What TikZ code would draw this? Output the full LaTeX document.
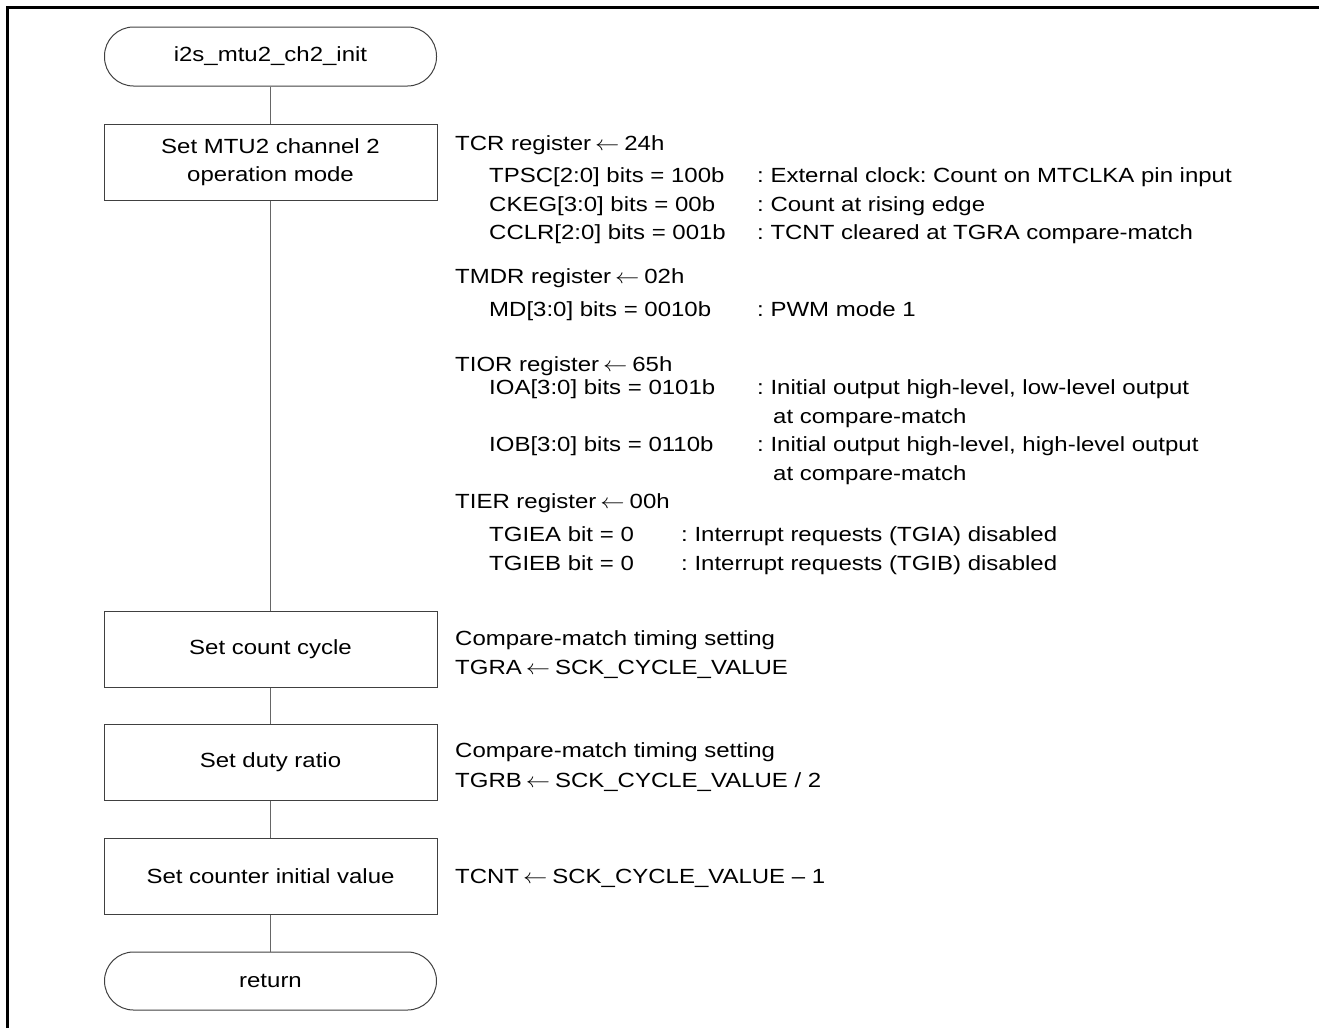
\documentclass[tikz,border=0pt]{standalone}
\usepackage{fontspec}
\usepackage{graphicx}
\setmainfont[FakeStretch=1.17]{Liberation Sans}
\newcommand{\la}{\hspace{4pt}\scalebox{1.17}[1]{$\leftarrow$}\hspace{5pt}}
\begin{document}
\frenchspacing
\begin{tikzpicture}[x=1pt,y=-1pt,
  every node/.style={font=\fontsize{20.5}{28}\selectfont},
  term/.style={draw=black!75, line width=1pt, rounded corners=29pt, minimum width=332pt, minimum height=59pt, inner sep=0pt},
  proc/.style={draw=black!75, line width=1pt, minimum width=333pt, minimum height=76pt, inner sep=0pt, align=center},
  link/.style={draw=black!60, line width=1.2pt},
  txt/.style={anchor=base west, inner sep=0pt},
  frame/.style={line width=3pt}]
\useasboundingbox (0,0) rectangle (1319,1028);
\draw[frame] (7.5,1028) -- (7.5,7.5) -- (1319,7.5);

\node[term] (start) at (270.5,56.5) {i2s\_mtu2\_ch2\_init};
\node[proc] (b1) at (270.5,162) {Set MTU2 channel 2\\operation mode};
\node[proc] (b2) at (270.5,649) {Set count cycle};
\node[proc] (b3) at (270.5,762) {Set duty ratio};
\node[proc] (b4) at (270.5,876) {Set counter initial value};
\node[term, minimum height=58pt] (ret) at (270.5,981) {return};

\draw[link] (start) -- (b1);
\draw[link] (b1) -- (b2);
\draw[link] (b2) -- (b3);
\draw[link] (b3) -- (b4);
\draw[link] (b4) -- (ret);

\node[txt] (t1) at (455,150) {TCR register\la 24h};
\node[txt] (t2) at (489,182) {TPSC[2:0] bits = 100b};
\node[txt] (t2c) at (757,182) {: External clock: Count on MTCLKA pin input};
\node[txt] (t3) at (489,211) {CKEG[3:0] bits = 00b};
\node[txt] (t3c) at (757,211) {: Count at rising edge};
\node[txt] (t4) at (489,239) {CCLR[2:0] bits = 001b};
\node[txt] (t4c) at (757,239) {: TCNT cleared at TGRA compare-match};
\node[txt] (t5) at (455,283) {TMDR register\la 02h};
\node[txt] (t6) at (489,316) {MD[3:0] bits = 0010b};
\node[txt] (t6c) at (757,316) {: PWM mode 1};
\node[txt] (t7) at (455,371) {TIOR register\la 65h};
\node[txt] (t8) at (489,394) {IOA[3:0] bits = 0101b};
\node[txt] (t8c) at (757,394) {: Initial output high-level, low-level output};
\node[txt] (t8d) at (773,423) {at compare-match};
\node[txt] (t9) at (489,451) {IOB[3:0] bits = 0110b};
\node[txt] (t9c) at (757,451) {: Initial output high-level, high-level output};
\node[txt] (t9d) at (773,480) {at compare-match};
\node[txt] (t10) at (455,508) {TIER register\la 00h};
\node[txt] (t11) at (489,541) {TGIEA bit = 0};
\node[txt] (t11c) at (681,541) {: Interrupt requests (TGIA) disabled};
\node[txt] (t12) at (489,570) {TGIEB bit = 0};
\node[txt] (t12c) at (681,570) {: Interrupt requests (TGIB) disabled};

\node[txt] (u1) at (455,645) {Compare-match timing setting};
\node[txt] (u2) at (455,674) {TGRA\la SCK\_CYCLE\_VALUE};
\node[txt] (u3) at (455,757) {Compare-match timing setting};
\node[txt] (u4) at (455,787) {TGRB\la SCK\_CYCLE\_VALUE / 2};
\node[txt] (u5) at (455,883) {TCNT\la SCK\_CYCLE\_VALUE – 1};
\end{tikzpicture}
\end{document}
